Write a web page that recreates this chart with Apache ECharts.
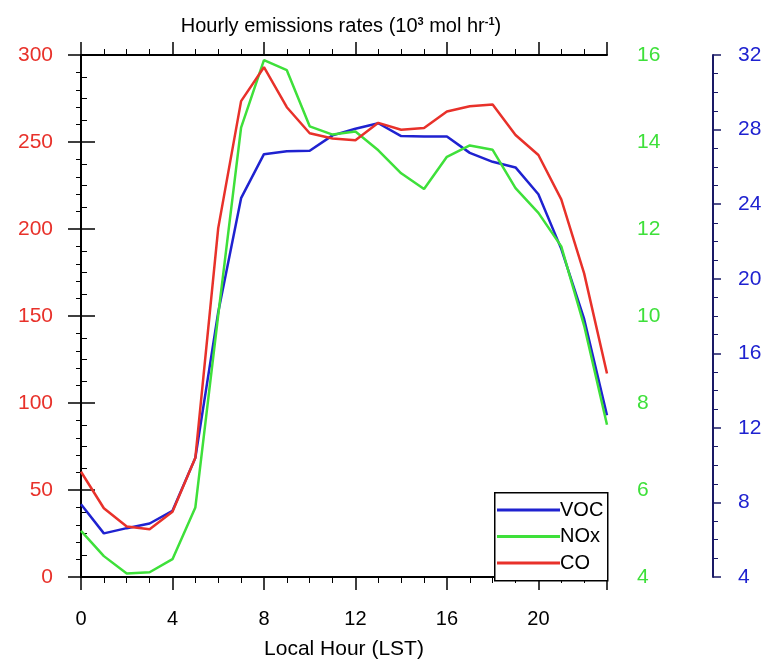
<!DOCTYPE html>
<html>
<head>
<meta charset="utf-8">
<script src="https://cdn.jsdelivr.net/npm/echarts@6/dist/echarts.min.js"></script>
<style>
  html, body { margin: 0; padding: 0; background: #fff; }
  #chart { width: 767px; height: 665px; }
</style>
</head>
<body>
<div id="chart"></div>
<script>
  // local hour (LST)
  var hours = [0, 1, 2, 3, 4, 5, 6, 7, 8, 9, 10, 11, 12, 13, 14, 15, 16, 17, 18, 19, 20, 21, 22, 23];
  // VOC, right outer axis (4 - 32)
  var voc = [7.9, 6.34, 6.62, 6.87, 7.55, 10.39, 18.2, 24.32, 26.68, 26.84, 26.86, 27.69, 28.04, 28.34,
             27.65, 27.63, 27.63, 26.75, 26.27, 25.97, 24.53, 21.6, 17.84, 12.68];
  // NOx, right axis (4 - 16)
  var nox = [5.06, 4.48, 4.08, 4.11, 4.41, 5.6, 10.02, 14.33, 15.88, 15.65, 14.36, 14.17, 14.24, 13.81,
             13.28, 12.92, 13.66, 13.92, 13.82, 12.94, 12.37, 11.6, 9.78, 7.5];
  // CO, left axis (0 - 300)
  var co = [60.5, 39.5, 29, 27.5, 37.5, 68.5, 200.5, 273.5, 293, 270, 255, 252, 251, 261,
            257, 258, 267.5, 270.5, 271.5, 254, 242.5, 217, 174.5, 117];

  var font = 'Liberation Sans, Helvetica, Arial, sans-serif';
  var cRed = '#e8312a', cGreen = '#3ee03a', cBlue = '#1f22d0';

  function pairs(arr) {
    return hours.map(function (h, i) { return [h, arr[i]]; });
  }

  var chart = echarts.init(document.getElementById('chart'));
  chart.setOption({
    animation: false,
    title: {
      text: '{t|Hourly emissions rates (10}{s|3}{t| mol hr}{s|-1}{t|)}',
      left: 336,
      top: 11,
      textAlign: 'center',
      textStyle: {
        rich: {
          t: {fontSize: 20, fontFamily: font, color: '#000', fontWeight: 'normal'},
          s: {fontSize: 11, fontFamily: font, color: '#000', verticalAlign: 'top', lineHeight: 11}
        }
      }
    },
    grid: {left: 81, right: 160, top: 55, bottom: 85},
    legend: {
      orient: 'vertical',
      left: 497,
      top: 500,
      padding: 0,
      icon: 'rect',
      itemWidth: 63,
      itemHeight: 3,
      itemGap: 6.5,
      textStyle: {fontSize: 20, lineHeight: 20, fontFamily: font, color: '#000', padding: [0, 0, 0, -5]},
      data: ['VOC', 'NOx', 'CO']
    },
    graphic: [{
      type: 'rect',
      left: 494, top: 492,
      shape: {width: 113, height: 88},
      style: {fill: '#fff', stroke: '#000', lineWidth: 1.5},
      z: 3
    }],
    xAxis: [{
      type: 'value', position: 'bottom',
      min: 0, max: 23, interval: 4,
      name: 'Local Hour (LST)', nameLocation: 'middle', nameGap: 62,
      nameTextStyle: {fontSize: 21, fontFamily: font, color: '#000'},
      axisLine: {lineStyle: {color: '#000', width: 2}},
      axisTick: {length: 13, lineStyle: {color: '#000', width: 1.5}},
      minorTick: {show: true, splitNumber: 4, length: 6, lineStyle: {color: '#000', width: 1}},
      axisLabel: {fontSize: 20, fontFamily: font, color: '#000', margin: 32, showMaxLabel: false},
      splitLine: {show: false}
    }, {
      type: 'value', position: 'top',
      min: 0, max: 23, interval: 4,
      axisLine: {lineStyle: {color: '#000', width: 2}},
      axisTick: {length: 13, lineStyle: {color: '#000', width: 1.5}},
      minorTick: {show: true, splitNumber: 4, length: 6, lineStyle: {color: '#000', width: 1}},
      axisLabel: {show: false},
      splitLine: {show: false}
    }],
    yAxis: [{
      type: 'value', position: 'left',
      min: 0, max: 300, interval: 50,
      axisLine: {show: true, lineStyle: {color: '#000', width: 2}},
      axisTick: {show: true, length: 13, lineStyle: {color: '#000', width: 1.5}},
      minorTick: {show: true, splitNumber: 5, length: 5, lineStyle: {color: '#000', width: 1}},
      axisLabel: {fontSize: 21, fontFamily: font, color: cRed, margin: 28},
      splitLine: {show: false}
    }, {
      type: 'value', position: 'right',
      min: 4, max: 16, interval: 2,
      axisLine: {show: true, lineStyle: {color: '#000', width: 2}},
      axisTick: {show: true, length: 14, lineStyle: {color: '#000', width: 1.5}},
      minorTick: {show: true, splitNumber: 4, length: 6, lineStyle: {color: '#000', width: 1}},
      axisLabel: {fontSize: 21, fontFamily: font, color: cGreen, margin: 30},
      splitLine: {show: false}
    }, {
      type: 'value', position: 'right', offset: 106,
      min: 4, max: 32, interval: 4,
      axisLine: {show: true, lineStyle: {color: '#1a1a66', width: 2}},
      axisTick: {show: true, length: 8, lineStyle: {color: '#1a1a66', width: 1.5}},
      minorTick: {show: true, splitNumber: 4, length: 5, lineStyle: {color: '#1a1a66', width: 1}},
      axisLabel: {fontSize: 21, fontFamily: font, color: cBlue, margin: 25},
      splitLine: {show: false}
    }],
    series: [{
      name: 'VOC', type: 'line', yAxisIndex: 2, symbol: 'none',
      lineStyle: {color: cBlue, width: 2.5}, itemStyle: {color: cBlue},
      data: pairs(voc)
    }, {
      name: 'NOx', type: 'line', yAxisIndex: 1, symbol: 'none',
      lineStyle: {color: cGreen, width: 2.5}, itemStyle: {color: cGreen},
      data: pairs(nox)
    }, {
      name: 'CO', type: 'line', yAxisIndex: 0, symbol: 'none',
      lineStyle: {color: cRed, width: 2.5}, itemStyle: {color: cRed},
      data: pairs(co)
    }]
  });
</script>
</body>
</html>
